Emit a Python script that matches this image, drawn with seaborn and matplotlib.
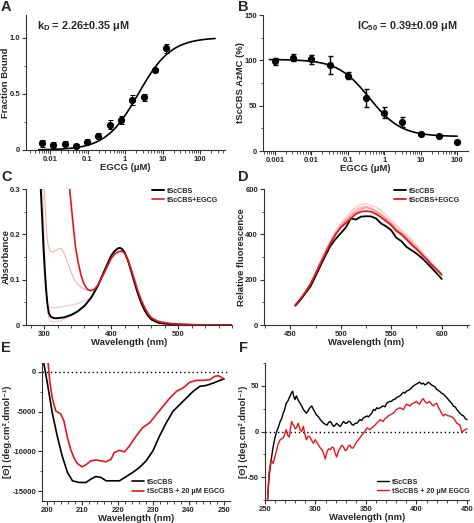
import numpy as np
import pandas as pd
import seaborn as sns
import matplotlib
import matplotlib.pyplot as plt
from matplotlib.ticker import FixedLocator, FixedFormatter, MultipleLocator, NullFormatter, LogLocator

# ---- data ----
# A: binding
egcg_a = [0.0061, 0.0122, 0.0244, 0.0488, 0.0977, 0.195, 0.39, 0.78, 1.56, 3.125, 6.25, 12.5]
bound = [0.06, 0.045, 0.05, 0.035, 0.075, 0.125, 0.225, 0.265, 0.445, 0.47, 0.71, 0.905]
bound_err = [0.03, 0.025, 0.03, 0.02, 0.02, 0.03, 0.04, 0.035, 0.045, 0.03, 0.02, 0.04]
kd = 2.26

# B: inhibition
egcg_b = [0.001, 0.00316, 0.01, 0.0316, 0.1, 0.316, 1.0, 3.16, 10.0, 31.6, 100.0]
activity = [99, 103, 101, 95, 83, 58, 42, 32, 19, 17, 10]
activity_err = [4, 4, 5, 10, 4, 10, 6, 5, 1, 1, 1]
ic50, act_top, act_bottom = 0.39, 101, 16

# C: absorbance spectra
c_wl_black = [295, 297, 299, 301, 303, 305, 307, 310, 315, 320, 330, 340, 350, 360, 370, 380, 390, 400, 405,
              410, 413, 416, 420, 425, 430, 435, 440, 445, 450, 455, 460, 470, 480, 490, 500, 520, 550, 580]
c_abs_black = [0.30, 0.24, 0.173, 0.12, 0.077, 0.045, 0.026, 0.018, 0.015, 0.015, 0.017, 0.022, 0.03, 0.042,
               0.06, 0.086, 0.12, 0.153, 0.163, 0.169, 0.170, 0.168, 0.16, 0.142, 0.118, 0.092, 0.068, 0.048,
               0.032, 0.02, 0.012, 0.005, 0.003, 0.002, 0.001, 0.0, 0.0, 0.0]
c_wl_red = [338, 340, 342, 344, 347, 351, 355, 359, 363, 366, 370, 375, 380, 390, 400, 405, 410, 414, 418,
            420, 425, 430, 435, 440, 445, 450, 455, 460, 470, 480, 490, 500, 520, 550, 580]
c_abs_red = [0.30, 0.27, 0.24, 0.21, 0.17, 0.136, 0.11, 0.092, 0.082, 0.077, 0.076, 0.079, 0.088, 0.116,
             0.147, 0.156, 0.161, 0.163, 0.161, 0.158, 0.143, 0.122, 0.098, 0.074, 0.054, 0.038, 0.025,
             0.016, 0.008, 0.005, 0.003, 0.002, 0.001, 0.0, 0.0]
c_wl_p1 = [300, 302, 304, 306, 309, 313, 318, 322, 326, 330, 335, 340, 345, 350, 355, 360, 365, 370, 375]
c_abs_p1 = [0.30, 0.25, 0.2, 0.175, 0.163, 0.16, 0.165, 0.169, 0.168, 0.158, 0.138, 0.117, 0.1, 0.09,
            0.083, 0.079, 0.077, 0.077, 0.079]
c_wl_p2 = [298, 300, 302, 304, 306, 310, 320, 330, 340, 350, 355, 360, 365, 370]
c_abs_p2 = [0.30, 0.2, 0.12, 0.06, 0.042, 0.038, 0.039, 0.041, 0.044, 0.047, 0.05, 0.053, 0.057, 0.062]
c_wl_p3 = [305, 308, 311, 315, 320, 327, 335, 345, 355]
c_abs_p3 = [0.03, 0.012, 0.007, 0.006, 0.008, 0.011, 0.016, 0.024, 0.036]

# D: fluorescence spectra
d_wl = [455, 460, 465, 470, 475, 480, 485, 490, 495, 500, 505, 510, 515, 520, 525,
        530, 535, 540, 545, 550, 555, 560, 565, 570, 575, 580, 585, 590, 595, 600]
d_black = [85, 110, 140, 170, 215, 262, 308, 350, 380, 405, 430, 470, 465, 478, 480,
           479, 470, 448, 435, 418, 385, 370, 345, 330, 315, 297, 275, 252, 228, 203]
d_red = [88, 115, 145, 180, 225, 272, 318, 362, 400, 430, 450, 470, 490, 500, 502,
         500, 490, 475, 458, 440, 415, 400, 378, 355, 335, 312, 290, 265, 245, 222]
d_pink1 = [88, 116, 148, 185, 232, 282, 330, 375, 415, 448, 475, 500, 520, 530, 535,
           528, 520, 505, 485, 462, 440, 420, 400, 378, 352, 325, 300, 275, 250, 225]
d_pink2 = [88, 115, 147, 183, 230, 280, 326, 370, 408, 440, 465, 488, 508, 520, 522,
           518, 505, 490, 473, 452, 430, 410, 390, 368, 345, 320, 295, 270, 247, 223]
d_pink3 = [87, 114, 145, 181, 227, 276, 322, 366, 404, 436, 460, 480, 498, 512, 518,
           512, 500, 485, 466, 448, 422, 405, 385, 362, 338, 314, 290, 266, 244, 220]

# E: far-UV CD
e_wl_black = [199.1, 200.1, 201.5, 202.9, 204.3, 205.8, 207.2, 209.1, 211.0, 212.4, 213.8, 215.3, 216.7,
              218.6, 220.5, 222.4, 224.2, 226.1, 228.0, 229.9, 231.8, 233.7, 235.6, 237.5, 239.4, 241.3,
              243.2, 245.1, 247.0, 248.9, 250.0]
e_cd_black = [1080, -1400, -5170, -8080, -10580, -12670, -13710, -13920, -13920, -13500, -13170, -13300,
              -13710, -13710, -13710, -13170, -12670, -12040, -11210, -9960, -8080, -6420, -4960, -4130,
              -3290, -2460, -1830, -1710, -1420, -1080, -900]
e_wl_red = [200.1, 200.8, 201.5, 202.5, 203.9, 204.8, 205.8, 206.7, 207.5, 208.5, 209.9, 211.0, 212.4,
            213.8, 215.3, 216.7, 218.1, 219.0, 220.5, 221.9, 223.3, 225.2, 227.0, 229.0, 230.9, 232.8,
            234.7, 236.6, 238.4, 240.3, 242.2, 244.1, 246.0, 247.4, 248.4, 249.6, 250.0]
e_cd_red = [2100, -1200, -3300, -4950, -5300, -6200, -8300, -9750, -10700, -11500, -11960, -11700, -11200,
            -11100, -11200, -11330, -11000, -10170, -9875, -10080, -9330, -8080, -7040, -6420, -5375, -4330,
            -3300, -2460, -2040, -1330, -1080, -1080, -1000, -580, -500, -800, -900]

# F: near-UV CD
f_wl = [252.5, 254, 256, 258, 260, 261.6, 263, 265, 266.5, 268, 269.5, 271, 272.5, 274, 275.3, 276.4, 277.4,
        278.5, 279.7, 281, 283, 284.7, 286.3, 288, 289.5, 291, 292.8, 294.5, 296.3, 298, 299.5, 301, 303,
        304.8, 306.4, 308, 309.7, 311.4, 313, 314.7, 316.4, 318, 319.5, 321, 322.8, 324.5, 326, 327.8, 329.5,
        331, 332.5, 334, 335.8, 337.5, 339.3, 341, 342.5, 344, 345.8, 347.5, 349.3, 351, 352.5, 354, 355.7,
        357.3, 359, 360.6, 362.3, 364, 365.5, 367, 368.8, 370.5, 372, 373.7, 375.3, 377, 378.5, 380, 381.8,
        383.7, 385.3, 387, 388.5, 390, 391.8, 393.5, 395.3, 397, 398.5, 400, 401.5, 403, 405, 406.7, 408.3,
        410, 411.5, 413, 414.8, 416.6, 418.3, 420, 421.5, 423, 424.8, 426.6, 428.3, 430, 431.5, 433, 434.8,
        436.5, 438.3, 440, 441.5, 443, 445, 446.7, 448.3, 450]
f_black = [-75, -50, -32, -17, -6, 0, 4, 11, 14, 20, 24, 31, 33, 37, 40, 43, 44, 38, 35, 39, 34, 31, 28, 24,
           22, 20, 23, 26, 28, 24, 21, 18, 16, 13, 11, 9, 8, 7, 10, 11, 8, 5.5, 7, 9, 7, 5.5, 8, 11, 9, 9, 11,
           11, 8, 7, 9, 9, 11, 13, 12, 15, 16, 17, 16, 18, 20, 24, 23, 26, 25, 26, 27, 28, 27, 31, 32, 33, 33,
           35, 35, 37, 38, 39, 41, 43, 42, 44, 45, 46, 48, 50, 51, 52, 53, 54, 52, 53, 51, 52, 54, 53, 51, 50,
           49, 46, 45, 44, 42, 41, 39, 37, 35, 33, 31, 28, 27, 24, 22, 20, 18, 17, 14, 13]
f_red = [-75, -45, -31, -35, -27, -20, -14, -9, -8, -7, -3, 2, -4, -6, 4, 11, 8, 7, 3, 4, 9, 2, 0, 5.5, -3,
         -9, -5, -6, -10, -13, -9, -11, -15, -18, -20, -24, -30, -22, -19, -20, -17, -18, -24, -28, -21, -18,
         -15, -17, -21, -20, -16, -15, -18, -18, -14, -11, -9, -7, -4, -2, 1, 4, 3, 2, 4, 5.5, 7, 9, 11, 13,
         12, 11, 14, 15, 17, 18, 19, 20, 22, 24, 25, 26, 25, 24, 27, 30, 29, 28, 30, 31, 32, 33, 31, 30, 34,
         36, 33, 31, 32, 33, 30, 28, 30, 31, 27, 24, 20, 17, 19, 18, 17, 17, 16, 15, 12, 9, 8, 7, -1, 1, 2, 3]

RED = "#e8161b"
PINKS = ["#f6b0b0", "#f19393", "#f8c6c6"]
TICK_FS, LABEL_FS, LEG_FS = 5.5, 6.8, 5.1

sns.set_style("ticks")
plt.rcParams["font.family"] = ["Liberation Sans", "DejaVu Sans"]
plt.rcParams["font.weight"] = "bold"
plt.rcParams["axes.labelweight"] = "bold"
plt.rcParams["axes.unicode_minus"] = False
plt.rcParams["mathtext.default"] = "regular"

W, H = 474, 523
fig = plt.figure(figsize=(W / 100, H / 100), dpi=100)


def make_ax(l, r, t, b):
    ax = fig.add_axes([l / W, 1 - b / H, (r - l) / W, (b - t) / H])
    ax.px_box = (l, r)
    return ax


def style(ax, ylabel_right):
    sns.despine(ax=ax)
    for s in ("left", "bottom"):
        ax.spines[s].set_linewidth(0.8)
        ax.spines[s].set_color("#333333")
    ax.tick_params(which="major", direction="out", length=3, width=0.8, labelsize=TICK_FS, pad=1.3,
                   color="#333333")
    ax.tick_params(which="minor", direction="out", length=1.8, width=0.6, color="#333333")
    ax.xaxis.label.set_size(LABEL_FS)
    ax.yaxis.label.set_size(LABEL_FS)
    ax.xaxis.labelpad = 0
    l, r = ax.px_box
    ax.yaxis.set_label_coords((ylabel_right - l) / (r - l), 0.5)


def legend(ax, x, y):
    ax.legend(loc="upper left", bbox_to_anchor=(x, y), frameon=False, fontsize=LEG_FS, handlelength=1.7,
              handletextpad=0.4, labelspacing=0.3, borderpad=0, borderaxespad=0)


def log_axis(ax, decades, labels):
    ax.set_xscale("log")
    ax.xaxis.set_major_locator(FixedLocator(decades))
    ax.xaxis.set_major_formatter(FixedFormatter(labels))
    ax.xaxis.set_minor_locator(LogLocator(base=10, subs=np.arange(2, 10)))
    ax.xaxis.set_minor_formatter(NullFormatter())


# ---- A ----
axA = make_ax(26, 225, 15, 150)
xa = np.logspace(np.log10(0.005), np.log10(250), 200)
sns.lineplot(x=xa, y=xa / (kd + xa), color="black", lw=1.2, ax=axA)
axA.errorbar(egcg_a, bound, yerr=bound_err, fmt="o", color="black", ms=4.2, capsize=1.8, elinewidth=0.7,
             capthick=0.7)
log_axis(axA, [0.01, 0.1, 1, 10, 100], ["0.01", "0.1", "1", "10", "100"])
axA.set_xlim(0.0023, 460)
axA.set_ylim(0, 1.2)
axA.set_yticks([0, 0.5, 1.0])
axA.set_yticklabels(["0", "0.5", "1.0"])
axA.yaxis.set_minor_locator(MultipleLocator(0.25))
axA.set_xlabel("EGCG (μM)")
axA.set_ylabel("Fraction Bound")
style(axA, 10.5)
axA.text(0.055, 0.97, "k$_D$ = 2.26±0.35 μM", transform=axA.transAxes, fontsize=7.8, fontweight="bold",
         va="top", ha="left")

# ---- B ----
axB = make_ax(263, 468, 15, 151)
xb = np.logspace(np.log10(0.0007), 2, 200)
sns.lineplot(x=xb, y=act_bottom + (act_top - act_bottom) / (1 + xb / ic50), color="black", lw=1.2, ax=axB)
axB.errorbar(egcg_b, activity, yerr=activity_err, fmt="o", color="black", ms=4.2, capsize=1.8,
             elinewidth=1.0, capthick=1.0)
log_axis(axB, [0.001, 0.01, 0.1, 1, 10, 100], ["0.001", "0.01", "0.1", "1", "10", "100"])
axB.set_xlim(10 ** -3.33, 10 ** 2.3)
axB.set_ylim(0, 150)
axB.set_yticks([0, 50, 100, 150])
axB.yaxis.set_minor_locator(MultipleLocator(25))
axB.set_xlabel("EGCG (μM)")
axB.set_ylabel("tScCBS AzMC (%)")
style(axB, 245.3)
axB.text(0.95, 0.97, "IC$_{50}$ = 0.39±0.09 μM", transform=axB.transAxes, fontsize=7.8, fontweight="bold",
         va="top", ha="right")

# ---- C ----
axC = make_ax(26, 232, 189, 325)
for wl, ab, col in [(c_wl_p1, c_abs_p1, PINKS[0]), (c_wl_p2, c_abs_p2, PINKS[2]), (c_wl_p3, c_abs_p3, PINKS[2])]:
    sns.lineplot(x=wl, y=ab, color=col, lw=0.8, ax=axC, sort=False)
sns.lineplot(x=c_wl_black, y=c_abs_black, color="black", lw=1.4, ax=axC, sort=False, label="tScCBS")
sns.lineplot(x=c_wl_red, y=c_abs_red, color=RED, lw=1.2, ax=axC, sort=False, label="tScCBS+EGCG")
axC.set_xlim(273, 580)
axC.set_ylim(0, 0.3)
axC.set_xticks([300, 400, 500])
axC.xaxis.set_minor_locator(MultipleLocator(20))
axC.set_yticks([0, 0.1, 0.2, 0.3])
axC.set_yticklabels(["0", "0.1", "0.2", "0.3"])
axC.yaxis.set_minor_locator(MultipleLocator(0.05))
axC.set_xlabel("Wavelength (nm)")
axC.set_ylabel("Absorbance")
style(axC, 10.5)
legend(axC, 0.61, 1.01)

# ---- D ----
axD = make_ax(264, 469, 189, 325)
for vals, col in [(d_pink1, PINKS[2]), (d_pink2, PINKS[0]), (d_pink3, PINKS[1])]:
    sns.lineplot(x=d_wl, y=vals, color=col, lw=0.9, ax=axD)
sns.lineplot(x=d_wl, y=d_black, color="black", lw=1.3, ax=axD, label="tScCBS")
sns.lineplot(x=d_wl, y=d_red, color=RED, lw=1.3, ax=axD, label="tScCBS+EGCG")
axD.set_xlim(424, 627)
axD.set_ylim(0, 600)
axD.set_xticks([450, 500, 550, 600])
axD.xaxis.set_minor_locator(MultipleLocator(25))
axD.set_yticks([0, 200, 400, 600])
axD.yaxis.set_minor_locator(MultipleLocator(100))
axD.set_xlabel("Wavelength (nm)")
axD.set_ylabel("Relative fluorescence")
style(axD, 246)
legend(axD, 0.634, 1.01)

# ---- E ----
axE = make_ax(42, 230, 363, 501)
axE.axhline(0, color="black", lw=1.0, ls=(0, (1, 2)))
sns.lineplot(x=e_wl_black, y=e_cd_black, color="black", lw=1.2, ax=axE, sort=False, label="tScCBS")
sns.lineplot(x=e_wl_red, y=e_cd_red, color=RED, lw=1.2, ax=axE, sort=False, label="tScCBS + 20 μM EGCG")
axE.set_xlim(198.6, 251.7)
axE.set_ylim(-16250, 1100)
axE.set_xticks([200, 210, 220, 230, 240, 250])
axE.xaxis.set_minor_locator(MultipleLocator(2))
axE.set_yticks([0, -5000, -10000, -15000])
axE.yaxis.set_minor_locator(MultipleLocator(2500))
axE.set_xlabel("Wavelength (nm)")
axE.set_ylabel("[Θ] (deg.cm².dmol⁻¹)")
style(axE, 12)
legend(axE, 0.48, 0.16)

# ---- F ----
axF = make_ax(265, 469, 363, 500)
axF.axhline(0, color="black", lw=1.0, ls=(0, (1, 2)))
sns.lineplot(x=f_wl, y=f_black, color="black", lw=1.0, ax=axF, label="tScCBS")
sns.lineplot(x=f_wl, y=f_red, color=RED, lw=1.0, ax=axF, label="tScCBS + 20 μM EGCG")
axF.set_xlim(250, 452)
axF.set_ylim(-75, 75)
axF.set_xticks([250, 300, 350, 400, 450])
axF.xaxis.set_minor_locator(MultipleLocator(10))
axF.set_yticks([-50, 0, 50])
axF.yaxis.set_minor_locator(MultipleLocator(25))
axF.set_xlabel("Wavelength (nm)")
axF.set_ylabel("[Θ] (deg.cm².dmol⁻¹)")
style(axF, 247.5)
legend(axF, 0.55, 0.155)

# panel letters
for letter, x, y in [("A", 1, 0), ("B", 238, 0), ("C", 1, 170), ("D", 238, 170), ("E", 1, 341), ("F", 239, 341)]:
    fig.text(x / W, 1 - y / H, letter, fontsize=10.5, fontweight="bold", va="top", ha="left")

fig.savefig("out.png", dpi=100)
